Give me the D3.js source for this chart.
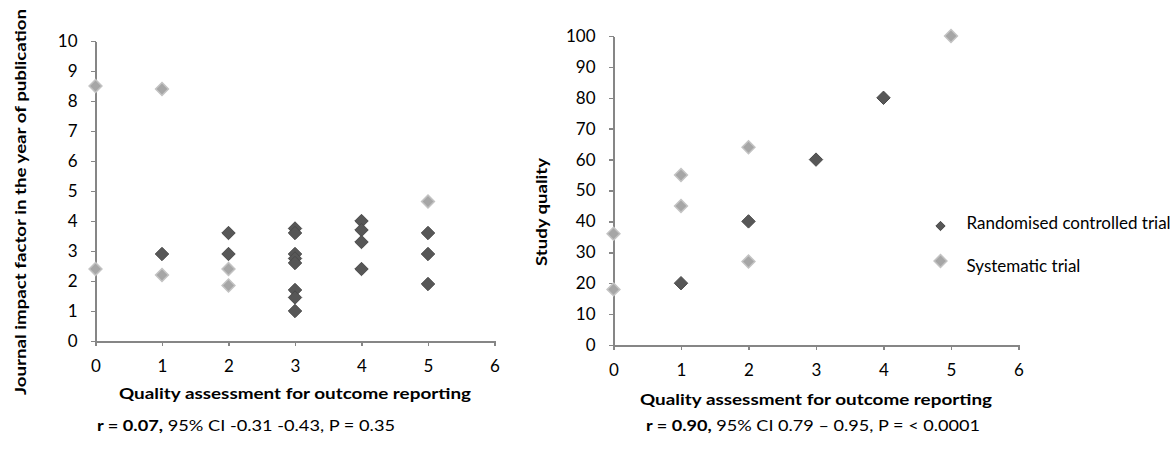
<!DOCTYPE html>
<html>
<head>
<meta charset="utf-8">
<script src="https://cdn.jsdelivr.net/npm/d3@7"></script>
<style>
  html, body { margin: 0; padding: 0; background: #fff; }
  svg { display: block; font-family: Lato, "Open Sans", sans-serif; }
  .axis path { stroke: #868686; stroke-width: 2; shape-rendering: crispEdges; }
  .axis line { stroke: #868686; stroke-width: 1.5; shape-rendering: crispEdges; }
  .axis text { fill: #000; font-size: 17px; font-family: Lato, sans-serif; }
</style>
</head>
<body>
<svg id="chart" width="1175" height="450"></svg>
<script>
// Shared x categories (quality assessment score 0–6)
const scoreTicks = [0, 1, 2, 3, 4, 5, 6];

// Panel A: journal impact factor vs quality score
const impactTicks = [0, 1, 2, 3, 4, 5, 6, 7, 8, 9, 10];
const rctScoreA   = [1, 2, 2, 3, 3, 3, 3, 3, 3, 3, 3, 4, 4, 4, 4, 5, 5, 5];
const rctImpact   = [2.9, 3.6, 2.9, 3.75, 3.6, 2.9, 2.75, 2.6, 1.7, 1.45, 1.0, 4.0, 3.7, 3.3, 2.4, 3.6, 2.9, 1.9];
const sysScoreA   = [0, 0, 1, 1, 2, 2, 5];
const sysImpact   = [8.5, 2.4, 8.4, 2.2, 2.4, 1.85, 4.65];

// Panel B: study quality vs quality score
const qualityTicks = [0, 10, 20, 30, 40, 50, 60, 70, 80, 90, 100];
const rctScoreB    = [1, 2, 3, 4];
const rctQuality   = [20, 40, 60, 80];
const sysScoreB    = [0, 0, 1, 1, 2, 2, 5];
const sysQuality   = [36, 18, 55, 45, 64, 27, 100];

// Legend entries
const seriesNames = ["Randomised controlled trial", "Systematic trial"];

const svg = d3.select("#chart");

const darkFill = "#575757", darkStroke = "#4a4a4a";
const lightFill = "#a6a6a6", lightStroke = "#c3c3c3";
const diamond = d3.symbol().type(d3.symbolDiamond2);
const intFmt = d3.format("d");

function drawPanel(opts) {
  const x = d3.scaleLinear().domain([0, 6]).range([opts.x0, opts.x1]);
  const y = d3.scaleLinear().domain([0, opts.yMax]).range([opts.y0, opts.y1]);

  svg.append("g").attr("class", "axis")
    .attr("transform", `translate(0,${opts.y0})`)
    .call(d3.axisBottom(x).tickValues(scoreTicks).tickFormat(intFmt)
      .tickSize(5).tickSizeOuter(0).tickPadding(14));

  svg.append("g").attr("class", "axis")
    .attr("transform", `translate(${opts.x0},0)`)
    .call(d3.axisLeft(y).tickValues(opts.yTicks).tickFormat(intFmt)
      .tickSize(5).tickSizeOuter(0).tickPadding(13));

  const g = svg.append("g");
  g.selectAll("path.rct").data(d3.zip(opts.rctX, opts.rctY)).join("path")
    .attr("class", "rct")
    .attr("d", diamond.size(115))
    .attr("transform", d => `translate(${x(d[0])},${y(d[1])})`)
    .attr("fill", darkFill).attr("stroke", darkStroke).attr("stroke-width", 1);
  g.selectAll("path.sys").data(d3.zip(opts.sysX, opts.sysY)).join("path")
    .attr("class", "sys")
    .attr("d", diamond.size(105))
    .attr("transform", d => `translate(${x(d[0])},${y(d[1])})`)
    .attr("fill", lightFill).attr("stroke", lightStroke).attr("stroke-width", 1.5);

  // x-axis title
  svg.append("text")
    .attr("x", (opts.x0 + opts.x1) / 2).attr("y", opts.xtY)
    .attr("text-anchor", "middle")
    .attr("font-size", 16).attr("font-weight", "bold")
    .attr("textLength", 352).attr("lengthAdjust", "spacingAndGlyphs")
    .text("Quality assessment for outcome reporting");

  // y-axis title
  svg.append("text")
    .attr("transform", `translate(${opts.ytX},${opts.ytY}) rotate(-90)`)
    .attr("text-anchor", "middle").attr("dominant-baseline", "central")
    .attr("font-size", 16).attr("font-weight", "bold")
    .attr("textLength", opts.ytLen).attr("lengthAdjust", "spacingAndGlyphs")
    .text(opts.yTitle);

  // correlation statement
  const st = svg.append("text")
    .attr("x", opts.statX).attr("y", 431)
    .attr("font-size", 16)
    .attr("textLength", opts.statLen).attr("lengthAdjust", "spacingAndGlyphs");
  st.append("tspan").attr("font-weight", "bold").text(opts.statBold);
  st.append("tspan").text(opts.statRest);

  return { x, y };
}

drawPanel({
  x0: 95.5, x1: 494.5, y0: 341, y1: 41, yMax: 10, yTicks: impactTicks, xtY: 399,
  rctX: rctScoreA, rctY: rctImpact, sysX: sysScoreA, sysY: sysImpact,
  yTitle: "Journal impact factor in the year of publication", ytX: 19, ytY: 202, ytLen: 386,
  statX: 97, statLen: 298, statBold: "r = 0.07,", statRest: " 95% CI -0.31 -0.43, P = 0.35"
});

drawPanel({
  x0: 613.5, x1: 1018.5, y0: 345, y1: 36, yMax: 100, yTicks: qualityTicks, xtY: 405,
  rctX: rctScoreB, rctY: rctQuality, sysX: sysScoreB, sysY: sysQuality,
  yTitle: "Study quality", ytX: 540, ytY: 212, ytLen: 108,
  statX: 646, statLen: 334, statBold: "r = 0.90,", statRest: " 95% CI 0.79 \u2013 0.95, P = < 0.0001"
});

// Legend
const legend = svg.append("g").attr("transform", "translate(940.5,0)");
const legendRows = [
  { name: seriesNames[0], my: 226, ty: 222, size: 55, fill: darkFill, stroke: darkStroke, sw: 1 },
  { name: seriesNames[1], my: 261, ty: 265, size: 105, fill: lightFill, stroke: lightStroke, sw: 1.5 }
];
legendRows.forEach(r => {
  legend.append("path")
    .attr("d", diamond.size(r.size)())
    .attr("transform", `translate(0,${r.my})`)
    .attr("fill", r.fill).attr("stroke", r.stroke).attr("stroke-width", r.sw);
  legend.append("text")
    .attr("x", 26).attr("y", r.ty).attr("dominant-baseline", "central")
    .attr("font-size", 17)
    .text(r.name);
});
</script>
</body>
</html>
